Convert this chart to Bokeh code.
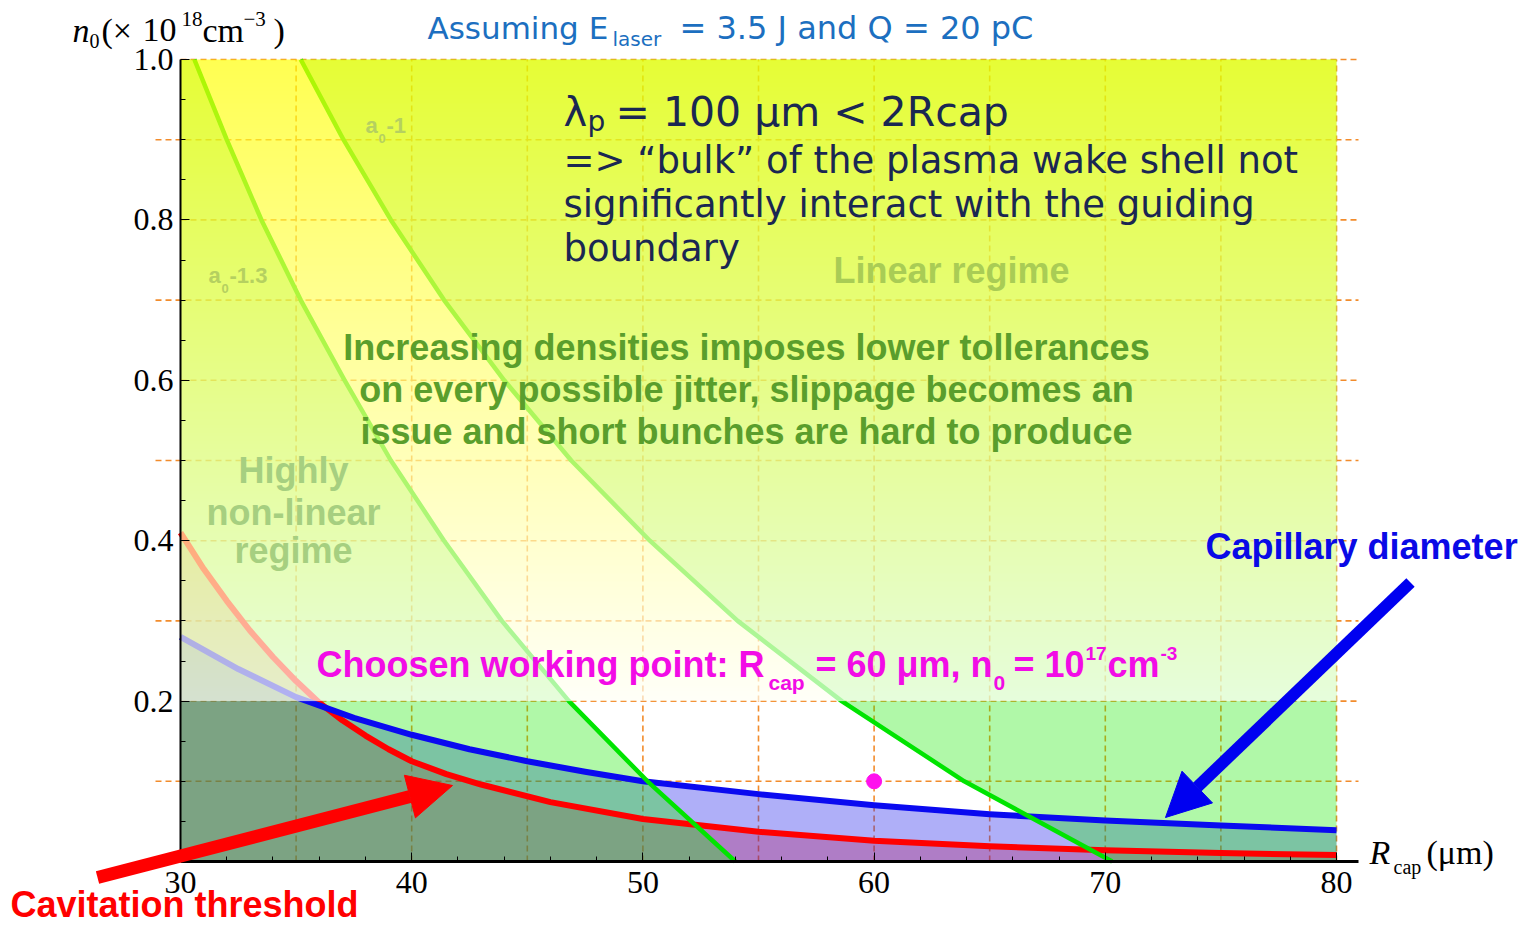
import numpy as np
from bokeh.plotting import figure
from bokeh.models import (Range1d, LinearAxis, FixedTicker, PrintfTickFormatter,
                          Arrow, NormalHead)
from bokeh.core.properties import value
from bokeh.embed import file_html
from bokeh.resources import INLINE

# ---------------------------------------------------------------- data
# capillary radius R_cap in micrometres, plasma density n0 in 1e18 cm^-3
r_cap = [30, 32.5, 35, 37.5, 40, 42.5, 45, 47.5, 50, 55, 60, 65, 70, 75, 80]
n_capillary = [0.28, 0.24, 0.205, 0.179, 0.158, 0.14, 0.125, 0.112, 0.100,
               0.084, 0.070, 0.059, 0.051, 0.045, 0.039]

r_cav = [30, 31, 32, 33, 34, 35, 36, 37, 38, 39, 40, 41.5, 43, 46, 50, 55, 60, 65, 70, 75, 80]
n_cavitation = [0.41, 0.365, 0.325, 0.288, 0.255, 0.225, 0.198, 0.176, 0.157, 0.14,
                0.125, 0.109, 0.096, 0.074, 0.053, 0.037, 0.026, 0.019, 0.014, 0.0105, 0.008]

# constant-a0 contours, given as R_cap at fixed density levels
n_levels = [0.0, 0.1, 0.2, 0.3, 0.4, 0.5, 0.6, 0.7, 0.8, 0.9, 1.0]
r_a0_13 = [54.0, 50.2, 46.8, 43.9, 41.4, 39.1, 37.1, 35.2, 33.5, 32.0, 30.6]
r_a0_1 = [70.3, 63.9, 58.6, 54.1, 50.3, 46.9, 44.0, 41.4, 39.1, 37.05, 35.2]

# chosen working point
work_r = [60]
work_n = [0.1]

# linear-regime density limit
n_linear_limit = 0.2

x_ticks = [30, 40, 50, 60, 70, 80]
x_minor = list(range(32, 80, 2))
y_ticks = [0.2, 0.4, 0.6, 0.8, 1.0]
y_minor = [round(0.05 * k, 2) for k in range(1, 20)]
x_grid = [35, 40, 45, 50, 55, 60, 65, 70, 75, 80]
y_grid_odd = [0.1, 0.3, 0.5, 0.7, 0.9]
y_grid_even = [0.2, 0.4, 0.6, 0.8, 1.0]

R_MIN, R_MAX = 30, 80
N_MAX = 1.0

# ---------------------------------------------------------------- canvas
W, H = 1526, 927
PX_PER_R = 23.12      # canvas pixels per micrometre
PX_PER_N = 802.0      # canvas pixels per 1e18 cm^-3
LEFT_PX, TOP_PX = 180, 59   # canvas position of the (30, 1.0) corner

x0 = R_MIN - LEFT_PX / PX_PER_R
y1 = N_MAX + TOP_PX / PX_PER_N


def cx(px):
    return x0 + px / PX_PER_R


def cy(py):
    return y1 - py / PX_PER_N


p = figure(width=W, height=H,
           x_range=Range1d(x0, x0 + W / PX_PER_R),
           y_range=Range1d(y1 - H / PX_PER_N, y1),
           x_axis_type=None, y_axis_type=None,
           toolbar_location=None, output_backend="svg",
           min_border=0, outline_line_color=None,
           background_fill_color="white", border_fill_color="white")

# dashed orange grid, drawn first so every region tints it
grid_style = dict(line_color="#f28c2c", line_dash="6 4", line_width=1.6)
R_OUT_L = R_MIN - 25 / PX_PER_R     # short outer dashes left of the axis
R_OUT_R = R_MAX + 22 / PX_PER_R     # and right of the frame
p.segment(x0=x_grid, y0=[0] * len(x_grid), x1=x_grid, y1=[N_MAX] * len(x_grid), **grid_style)
p.segment(x0=[R_OUT_L] * len(y_grid_odd), y0=y_grid_odd,
          x1=[R_OUT_R] * len(y_grid_odd), y1=y_grid_odd, **grid_style)
p.segment(x0=[R_MIN] * len(y_grid_even), y0=y_grid_even,
          x1=[R_OUT_R] * len(y_grid_even), y1=y_grid_even, **grid_style)

# filled regions below the cavitation threshold and the capillary limit
p.varea(x=r_cav, y1=0, y2=n_cavitation, fill_color=(255, 0, 0), fill_alpha=0.30)
p.varea(x=r_cap, y1=0, y2=n_capillary, fill_color=(30, 30, 235), fill_alpha=0.355)

# green tint outside the a0 = 1.3 .. 1 band
n_len = len(n_levels)
p.harea(x1=[R_MIN] * n_len, x2=r_a0_13, y=n_levels, fill_color=(29, 234, 6), fill_alpha=0.35)
p.harea(x1=r_a0_1, x2=[R_MAX] * n_len, y=n_levels, fill_color=(29, 234, 6), fill_alpha=0.35)

# curves
p.line(r_cav, n_cavitation, line_color="#ff0000", line_width=6, line_join="round")
p.line(r_cap, n_capillary, line_color="#0a0af0", line_width=6, line_join="round")
p.line(r_a0_13, n_levels, line_color="#00e400", line_width=4.5, line_join="round")
p.line(r_a0_1, n_levels, line_color="#00e400", line_width=4.5, line_join="round")

# translucent yellow veil over the non-linear / linear regimes (n0 > 0.2)
rows = 400
t = np.linspace(0.0, 1.0, rows)
veil = np.empty((rows, 2, 4), dtype=np.uint8)
veil[..., 0] = 255
veil[..., 1] = 255
veil[..., 2] = (245 * (1.0 - t))[:, None].astype(np.uint8)
veil[..., 3] = int(0.68 * 255)
p.image_rgba(image=[veil.view(np.uint32).reshape(rows, 2)],
             x=R_MIN, y=n_linear_limit, dw=R_MAX - R_MIN, dh=N_MAX - n_linear_limit)

# working point
p.scatter(work_r, work_n, size=15, fill_color="#ff10ee", line_color="#ff10ee")

# axes
axis_style = dict(axis_line_color="black", axis_line_width=2,
                  major_tick_in=9, major_tick_out=0, minor_tick_in=5, minor_tick_out=0,
                  major_tick_line_color="black", minor_tick_line_color="black",
                  major_label_text_font="Liberation Serif",
                  major_label_text_font_size="32px", major_label_text_color="black")
xaxis = LinearAxis(fixed_location=0, bounds=(R_MIN, R_OUT_R),
                   ticker=FixedTicker(ticks=x_ticks, minor_ticks=x_minor),
                   formatter=PrintfTickFormatter(format="%d"),
                   major_label_standoff=10, **axis_style)
xaxis.axis_line_width = 3
yaxis = LinearAxis(fixed_location=R_MIN, bounds=(0, N_MAX),
                   ticker=FixedTicker(ticks=y_ticks, minor_ticks=y_minor),
                   formatter=PrintfTickFormatter(format="%.1f"),
                   major_label_standoff=7, **axis_style)
p.add_layout(xaxis, "below")
p.add_layout(yaxis, "left")


def put(txt, px, py, size, color, font, style="normal", align="left"):
    """Place a text run with its baseline at canvas pixel (px, py)."""
    p.text(x=[cx(px)], y=[cy(py - 0.36 * size)], text=[txt],
           text_font=value(font), text_font_size=value(f"{size}px"),
           text_font_style=style, text_color=color,
           text_align=align, text_baseline="alphabetic")


SANS = "DejaVu Sans"
BOLD = "Liberation Sans"
SERIF = "Liberation Serif"

# axis titles
put("n", 72, 42, 34, "black", SERIF, "italic")
put("0", 89, 48, 20, "black", SERIF)
put("(\u00d7", 101, 42, 34, "black", SERIF)
put("10", 142, 42, 34, "black", SERIF)
put("18", 181, 26, 21, "black", SERIF)
put("cm", 202, 42, 34, "black", SERIF)
put("\u22123", 243, 26, 21, "black", SERIF)
put(")", 273, 42, 34, "black", SERIF)

put("R", 1369, 864, 34, "black", SERIF, "italic")
put("cap", 1393, 874, 20, "black", SERIF)
put("(\u03bcm)", 1426, 864, 34, "black", SERIF)

# title
TITLE = "#1c6fc0"
put("Assuming E", 427, 39, 31, TITLE, SANS)
put("laser", 612, 46, 20, TITLE, SANS)
put("= 3.5 J and Q = 20 pC", 679, 39, 32, TITLE, SANS)

# plasma-wavelength note
NAVY = "#1a2752"
put("\u03bb", 563, 126, 40, NAVY, SANS)
put("p", 587, 131, 28, NAVY, SANS)
put("= 100 \u03bcm < 2Rcap", 615, 126, 41, NAVY, SANS)
put("=> \u201cbulk\u201d of the plasma wake shell not", 563, 173, 37, NAVY, SANS)
put("significantly interact with the guiding", 563, 217, 37, NAVY, SANS)
put("boundary", 563, 261, 37, NAVY, SANS)

# regime labels
put("Linear regime", 951, 283, 36, "#a9cc55", BOLD, "bold", "center")
for txt, base in [("Highly", 483), ("non-linear", 525), ("regime", 563)]:
    put(txt, 293, base, 36, "#a6cf80", BOLD, "bold", "center")
GREEN_TXT = "#5a9e2c"
for txt, base in [("Increasing densities imposes lower tollerances", 360),
                  ("on every possible jitter, slippage becomes an", 402),
                  ("issue and short bunches are hard to produce", 444)]:
    put(txt, 746, base, 36, GREEN_TXT, BOLD, "bold", "center")

# contour labels
A0 = "#b5d060"
put("a", 365, 133, 22, A0, BOLD, "bold")
put("0", 378, 143, 13, A0, BOLD, "bold")
put("-1", 386, 133, 22, A0, BOLD, "bold")
put("a", 208, 283, 22, A0, BOLD, "bold")
put("0", 221, 293, 13, A0, BOLD, "bold")
put("-1.3", 229, 283, 22, A0, BOLD, "bold")

# working point label
MAG = "#f20ce6"
put("Choosen working point: R", 316, 677, 36, MAG, BOLD, "bold")
put("cap", 768, 690, 21, MAG, BOLD, "bold")
put("= 60 \u03bcm, n", 815, 677, 36, MAG, BOLD, "bold")
put("0", 993, 690, 21, MAG, BOLD, "bold")
put("= 10", 1013, 677, 36, MAG, BOLD, "bold")
put("17", 1085, 660, 19, MAG, BOLD, "bold")
put("cm", 1107, 677, 36, MAG, BOLD, "bold")
put("-3", 1160, 660, 19, MAG, BOLD, "bold")

# curve labels with arrows
put("Capillary diameter", 1205, 559, 36, "#0a0ae6", BOLD, "bold")
put("Cavitation threshold", 10, 917, 36, "#ff0000", BOLD, "bold")

p.add_layout(Arrow(end=NormalHead(size=44, fill_color="#ff0000", line_color="#ff0000"),
                   x_start=cx(97), y_start=cy(877), x_end=cx(452), y_end=cy(785),
                   line_color="#ff0000", line_width=13))
p.add_layout(Arrow(end=NormalHead(size=44, fill_color="#0000f0", line_color="#0000f0"),
                   x_start=cx(1410), y_start=cy(582), x_end=cx(1165), y_end=cy(817),
                   line_color="#0000f0", line_width=12))

open("out.html", "w").write(file_html(p, INLINE))
